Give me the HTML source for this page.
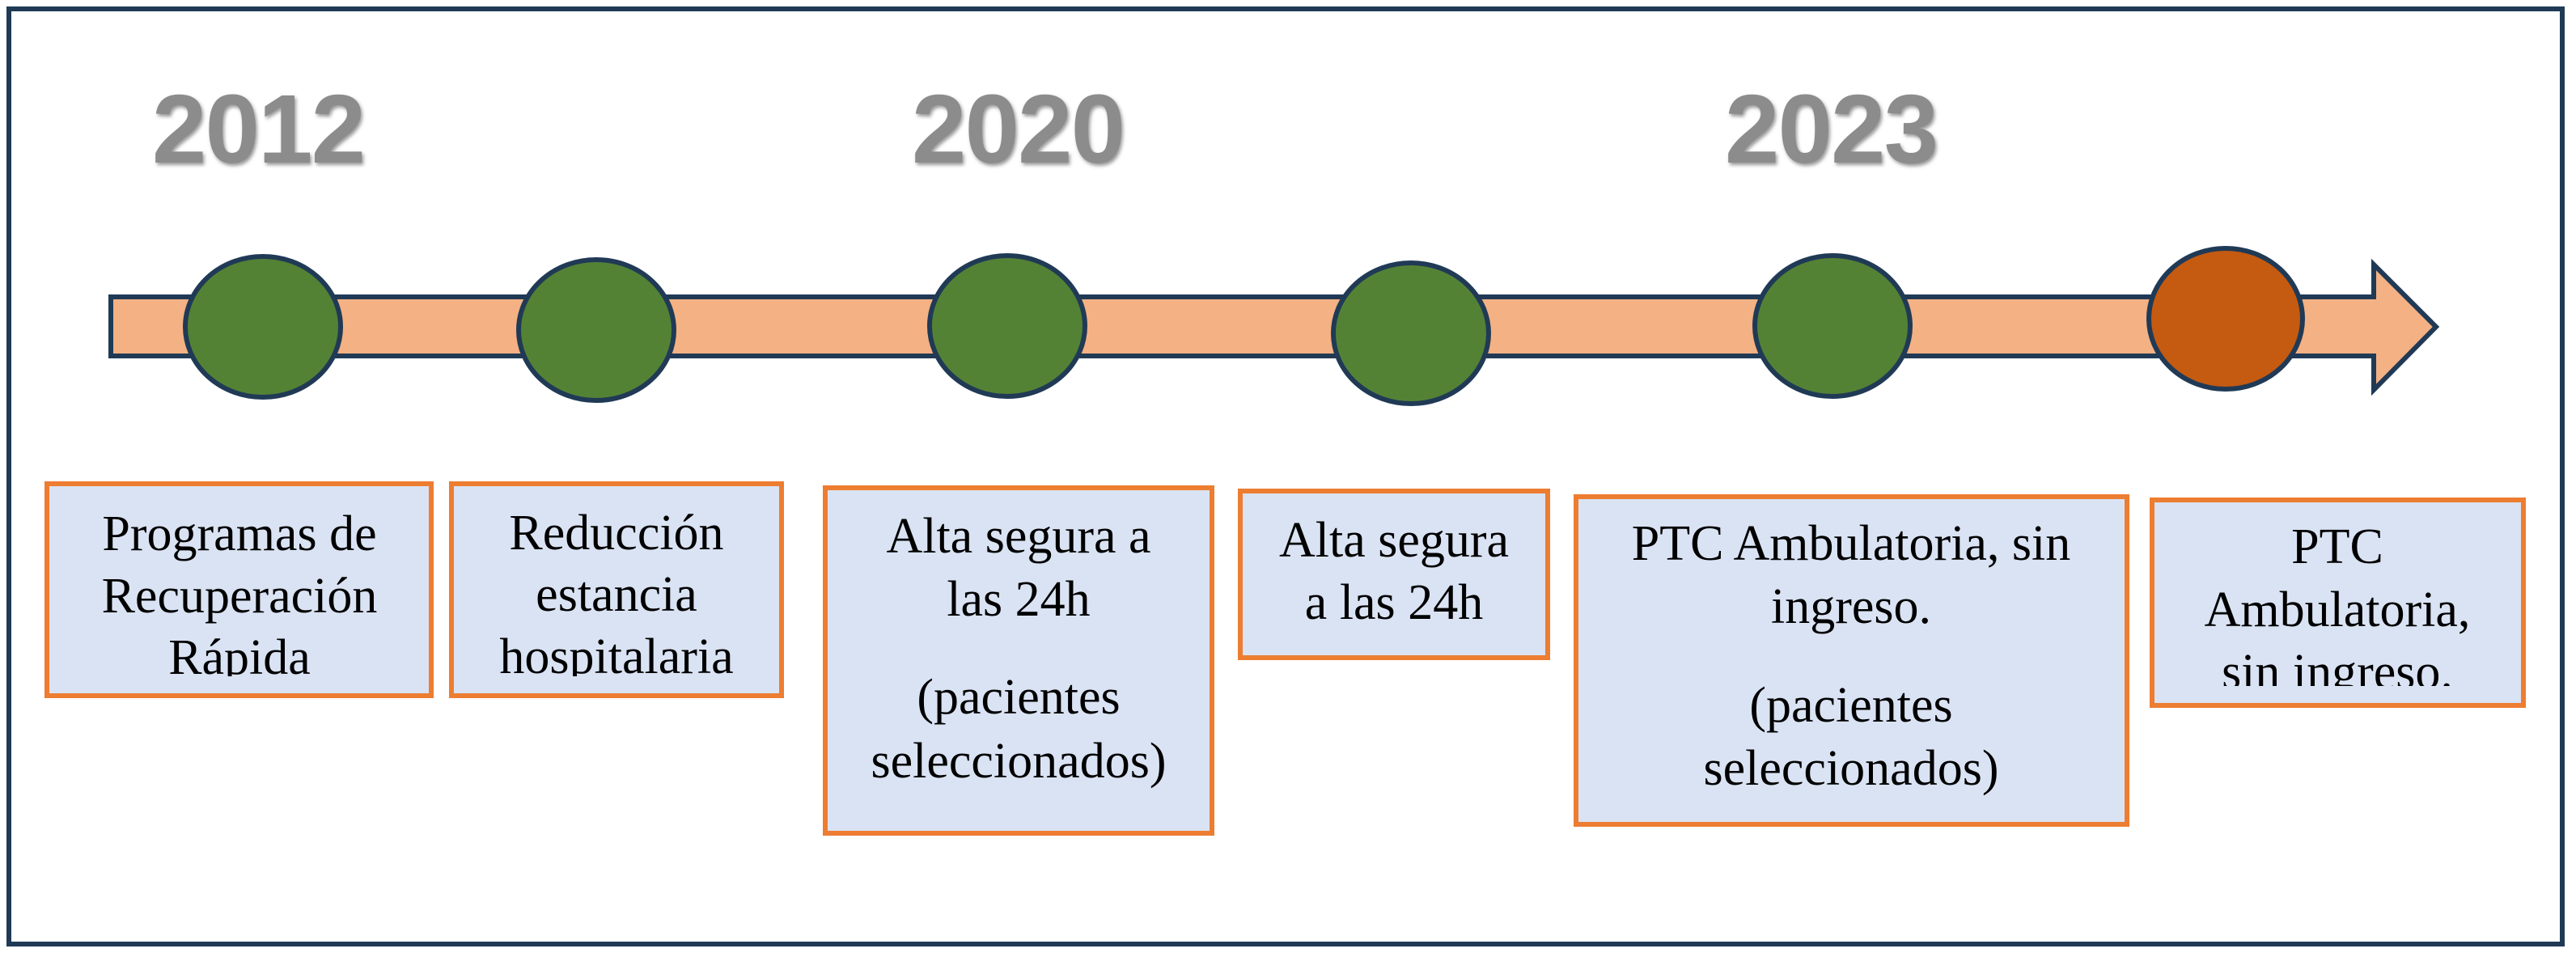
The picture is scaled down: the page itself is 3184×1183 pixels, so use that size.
<!DOCTYPE html>
<html><head><meta charset="utf-8"><style>
html,body{margin:0;padding:0;background:#fff;}
svg{display:block;}
.t{font-family:"Liberation Serif",serif;font-size:62px;fill:#000;text-anchor:middle;}
.y{font-family:"Liberation Sans",sans-serif;font-weight:bold;font-size:121px;fill:#8c8c8c;text-anchor:middle;}
</style></head><body>
<svg width="3184" height="1183" viewBox="0 0 3184 1183" xmlns="http://www.w3.org/2000/svg">
<defs>
<filter id="sh" x="-10%" y="-10%" width="120%" height="130%">
<feDropShadow dx="2" dy="3" stdDeviation="2" flood-color="#555" flood-opacity="0.6"/>
</filter>
<clipPath id="c1"><rect x="55" y="595" width="490" height="241"/></clipPath>
<clipPath id="c2"><rect x="555" y="595" width="420" height="241"/></clipPath>
<clipPath id="c6"><rect x="2657" y="615" width="470" height="233"/></clipPath>
</defs>
<rect x="0" y="0" width="3184" height="1183" fill="#fff"/>
<rect x="11" y="11" width="3156" height="1156" fill="none" stroke="#203A56" stroke-width="6"/>

<g filter="url(#sh)">
<text class="y" x="320" y="201" textLength="264">2012</text>
<text class="y" x="1259" y="201" textLength="264">2020</text>
<text class="y" x="2264" y="201" textLength="264">2023</text>
</g>

<path d="M137,367 L2934,367 L2934,327 L3011,404 L2934,482 L2934,440 L137,440 Z" fill="#F4B183" stroke="#203A56" stroke-width="6" stroke-linejoin="miter"/>

<g stroke="#203A56" stroke-width="6">
<ellipse cx="325" cy="404" rx="96" ry="87" fill="#548235"/>
<ellipse cx="737" cy="408" rx="96" ry="87" fill="#548235"/>
<ellipse cx="1245" cy="403" rx="96" ry="87" fill="#548235"/>
<ellipse cx="1744" cy="412" rx="96" ry="87" fill="#548235"/>
<ellipse cx="2265" cy="403" rx="96" ry="87" fill="#548235"/>
<ellipse cx="2751" cy="394" rx="95" ry="87" fill="#C55A11"/>
</g>

<g fill="#DAE3F3" stroke="#ED7D31" stroke-width="6">
<rect x="58" y="598" width="475" height="262"/>
<rect x="558" y="598" width="408" height="262"/>
<rect x="1020" y="603" width="478" height="427"/>
<rect x="1533" y="607" width="380" height="206"/>
<rect x="1948" y="614" width="681" height="405"/>
<rect x="2660" y="618" width="459" height="254"/>
</g>

<g clip-path="url(#c1)">
<text class="t" x="296" y="680">Programas de</text>
<text class="t" x="296" y="757">Recuperación</text>
<text class="t" x="296" y="833">Rápida</text>
</g>
<g clip-path="url(#c2)">
<text class="t" x="762" y="679">Reducción</text>
<text class="t" x="762" y="755">estancia</text>
<text class="t" x="762" y="832">hospitalaria</text>
</g>
<text class="t" x="1259" y="683">Alta segura a</text>
<text class="t" x="1259" y="761">las 24h</text>
<text class="t" x="1259" y="882">(pacientes</text>
<text class="t" x="1259" y="961">seleccionados)</text>

<text class="t" x="1723" y="688">Alta segura</text>
<text class="t" x="1723" y="765">a las 24h</text>

<text class="t" x="2288" y="692">PTC Ambulatoria, sin</text>
<text class="t" x="2288" y="770">ingreso.</text>
<text class="t" x="2288" y="892">(pacientes</text>
<text class="t" x="2288" y="970">seleccionados)</text>

<g clip-path="url(#c6)">
<text class="t" x="2889" y="696">PTC</text>
<text class="t" x="2889" y="774">Ambulatoria,</text>
<text class="t" x="2889" y="851">sin ingreso.</text>
</g>
</svg>
</body></html>
